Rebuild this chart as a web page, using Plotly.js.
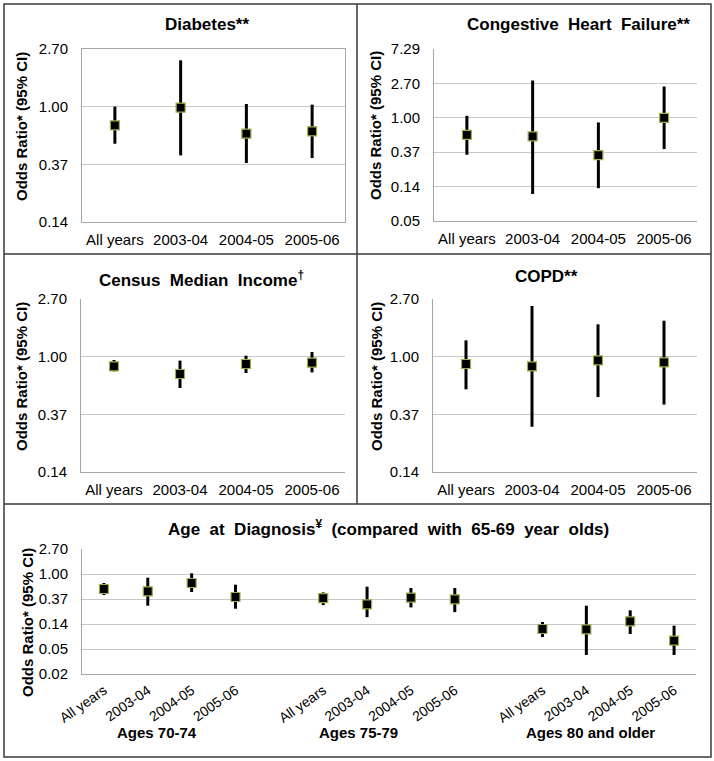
<!DOCTYPE html>
<html>
<head>
<meta charset="utf-8">
<script src="https://cdn.plot.ly/plotly-3.0.1.min.js"></script>
<style>html,body{margin:0;padding:0;background:#fff;}#chart{width:714px;height:761px;}</style>
</head>
<body>
<div id="chart"></div>
<script>
// ---------- DATA ----------
const yearCats = ['All years', '2003-04', '2004-05', '2005-06'];

const diabetesOR = [0.725, 0.983, 0.628, 0.654];
const diabetesLo = [0.528, 0.432, 0.379, 0.413];
const diabetesHi = [1.000, 2.220, 1.047, 1.035];

const chfOR = [0.612, 0.584, 0.341, 1.000];
const chfLo = [0.344, 0.111, 0.131, 0.405];
const chfHi = [1.059, 2.935, 0.874, 2.469];

const incomeOR = [0.846, 0.742, 0.881, 0.902];
const incomeLo = [0.777, 0.583, 0.755, 0.763];
const incomeHi = [0.944, 0.934, 1.017, 1.084];

const copdOR = [0.881, 0.846, 0.938, 0.907];
const copdLo = [0.570, 0.299, 0.499, 0.438];
const copdHi = [1.325, 2.394, 1.746, 1.858];

const ageGroups = ['Ages 70-74', 'Ages 75-79', 'Ages 80 and older'];
const age7074OR = [0.551, 0.502, 0.699, 0.401];
const age7074Lo = [0.434, 0.284, 0.489, 0.252];
const age7074Hi = [0.699, 0.864, 1.027, 0.654];
const age7579OR = [0.384, 0.299, 0.390, 0.365];
const age7579Lo = [0.291, 0.180, 0.265, 0.220];
const age7579Hi = [0.482, 0.604, 0.573, 0.573];
const age80OR = [0.1124, 0.111, 0.1526, 0.0707];
const age80Lo = [0.0818, 0.040, 0.0922, 0.040];
const age80Hi = [0.1485, 0.284, 0.236, 0.1283];

const tickExps = [-4, -3, -2, -1, 0, 1, 2];
const tickLabels = ['0.02', '0.05', '0.14', '0.37', '1.00', '2.70', '7.29'];

// ---------- HELPERS ----------
const W = 714, H = 761;
const FONT = 'Liberation Sans, Arial, sans-serif';
const BASE = 2.7;
const tickVals = tickExps.map(k => Math.pow(BASE, k));
const px = x => x / W;
const py = y => 1 - y / H;
const lg = v => Math.log10(v);

function ticksFor(lo, hi) {
  const vals = [], txt = [];
  tickExps.forEach((k, i) => { if (k >= lo && k <= hi) { vals.push(tickVals[i]); txt.push(tickLabels[i]); } });
  return {vals, txt};
}

function trace(xs, or, lo, hi, xa, ya) {
  return {
    type: 'scatter', mode: 'markers', x: xs, y: or, xaxis: xa, yaxis: ya,
    marker: {symbol: 'square', size: 9, color: '#000', line: {color: '#9bb04a', width: 1.2}},
    error_y: {type: 'data', symmetric: false,
      array: hi.map((h, i) => h - or[i]), arrayminus: lo.map((l, i) => or[i] - l),
      color: '#000', thickness: 3, width: 0},
    hoverinfo: 'skip', showlegend: false
  };
}

const traces = [];
traces.push(trace([0,1,2,3], diabetesOR, diabetesLo, diabetesHi, 'x', 'y'));
traces.push(trace([0,1,2,3], chfOR, chfLo, chfHi, 'x2', 'y2'));
traces.push(trace([0,1,2,3], incomeOR, incomeLo, incomeHi, 'x3', 'y3'));
traces.push(trace([0,1,2,3], copdOR, copdLo, copdHi, 'x4', 'y4'));
traces.push(trace([0,1,2,3], age7074OR, age7074Lo, age7074Hi, 'x5', 'y5'));
traces.push(trace([5,6,7,8], age7579OR, age7579Lo, age7579Hi, 'x5', 'y5'));
traces.push(trace([10,11,12,13], age80OR, age80Lo, age80Hi, 'x5', 'y5'));

const layout = {
  width: W, height: H,
  margin: {l: 0, r: 0, t: 0, b: 0},
  paper_bgcolor: '#fff', plot_bgcolor: '#fff',
  font: {family: FONT, size: 15, color: '#000'},
  showlegend: false,
  shapes: [], annotations: []
};

function addPanel(n, xd, yd, lo, hi, ncat, darkExp, mirror) {
  const s = n === 1 ? '' : String(n);
  const t = ticksFor(lo, hi);
  layout['xaxis' + s] = {
    domain: [px(xd[0]), px(xd[1])], anchor: 'y' + s,
    range: [-0.5, ncat - 0.5], showgrid: false, zeroline: false,
    showline: true, linecolor: '#a6a6a6', linewidth: 1, mirror: mirror,
    tickmode: 'array', tickvals: [0,1,2,3], ticktext: yearCats,
    ticks: 'outside', ticklen: 4, tickcolor: 'rgba(0,0,0,0)',
    tickfont: {family: FONT, size: 15, color: '#000'}, fixedrange: true
  };
  layout['yaxis' + s] = {
    domain: [py(yd[1]), py(yd[0])], anchor: 'x' + s,
    type: 'log', range: [lo * Math.log10(BASE), hi * Math.log10(BASE)],
    tickmode: 'array', tickvals: t.vals, ticktext: t.txt,
    showgrid: true, gridcolor: '#c8c8c8', gridwidth: 1, zeroline: false,
    showline: true, linecolor: '#a6a6a6', linewidth: 1, mirror: mirror,
    ticks: 'outside', ticklen: 10, tickcolor: 'rgba(0,0,0,0)',
    tickfont: {family: FONT, size: 15, color: '#000'}, fixedrange: true
  };
  layout.shapes.push({type: 'line', xref: 'x' + s + ' domain', yref: 'y' + s,
    x0: 0, x1: 1, y0: lg(Math.pow(BASE, darkExp)), y1: lg(Math.pow(BASE, darkExp)),
    line: {color: '#8c8c8c', width: 1.3}, layer: 'below'});
}

addPanel(1, [82, 345], [49, 222], -2, 1, 4, 0, true);
addPanel(2, [434, 697], [49, 221], -3, 2, 4, 0, false);
addPanel(3, [81, 345], [299, 472], -2, 1, 4, 0, false);
addPanel(4, [433, 697], [299, 472], -2, 1, 4, 0, false);
addPanel(5, [82, 696], [549, 674], -4, 1, 14, -1, false);

// bottom panel x axis: 14 slots, gaps at 4 and 9
layout.xaxis5.tickvals = [0,1,2,3,5,6,7,8,10,11,12,13];
layout.xaxis5.ticktext = yearCats.concat(yearCats, yearCats);
layout.xaxis5.tickangle = -35;
layout.xaxis5.tickfont = {family: FONT, size: 14, color: '#000'};
layout.xaxis5.ticklen = 2;

// panel frames
const frameCol = '#3a3a3a';
layout.shapes.push(
  {type: 'rect', xref: 'paper', yref: 'paper', x0: px(4), x1: px(711), y0: py(757), y1: py(4), line: {color: frameCol, width: 1.5}},
  {type: 'line', xref: 'paper', yref: 'paper', x0: px(357), x1: px(357), y0: py(4), y1: py(504), line: {color: frameCol, width: 1.5}},
  {type: 'line', xref: 'paper', yref: 'paper', x0: px(4), x1: px(711), y0: py(254), y1: py(254), line: {color: frameCol, width: 1.5}},
  {type: 'line', xref: 'paper', yref: 'paper', x0: px(4), x1: px(711), y0: py(504), y1: py(504), line: {color: frameCol, width: 1.5}}
);

// titles
function title(text, x, y) {
  layout.annotations.push({text: '<b>' + text + '</b>', xref: 'paper', yref: 'paper',
    x: px(x), y: py(y), xanchor: 'center', yanchor: 'middle', showarrow: false,
    font: {family: FONT, size: 17, color: '#000'}});
}
title('Diabetes**', 207, 25);
title('Congestive  Heart  Failure**', 578, 25);
title('Census  Median  Income<sup>†</sup>', 201, 279);
title('COPD**', 546, 276);
title('Age  at  Diagnosis<sup>¥</sup>  (compared  with  65-69  year  olds)', 389, 528);

// y-axis titles
function ytitle(x, y) {
  layout.annotations.push({text: '<b>Odds Ratio* (95% CI)</b>', xref: 'paper', yref: 'paper',
    x: px(x), y: py(y), xanchor: 'center', yanchor: 'middle', textangle: -90, showarrow: false,
    font: {family: FONT, size: 15, color: '#000'}});
}
ytitle(21, 127); ytitle(375, 126); ytitle(21, 377); ytitle(376, 377); ytitle(27, 623);

// group labels
const groupX = [1.2, 5.8, 11.1];
ageGroups.forEach((g, i) => {
  layout.annotations.push({text: '<b>' + g + '</b>', xref: 'x5', yref: 'paper',
    x: groupX[i], y: py(732), xanchor: 'center', yanchor: 'middle', showarrow: false,
    font: {family: FONT, size: 15, color: '#000'}});
});

Plotly.newPlot('chart', traces, layout, {displayModeBar: false, staticPlot: true});
</script>
</body>
</html>
